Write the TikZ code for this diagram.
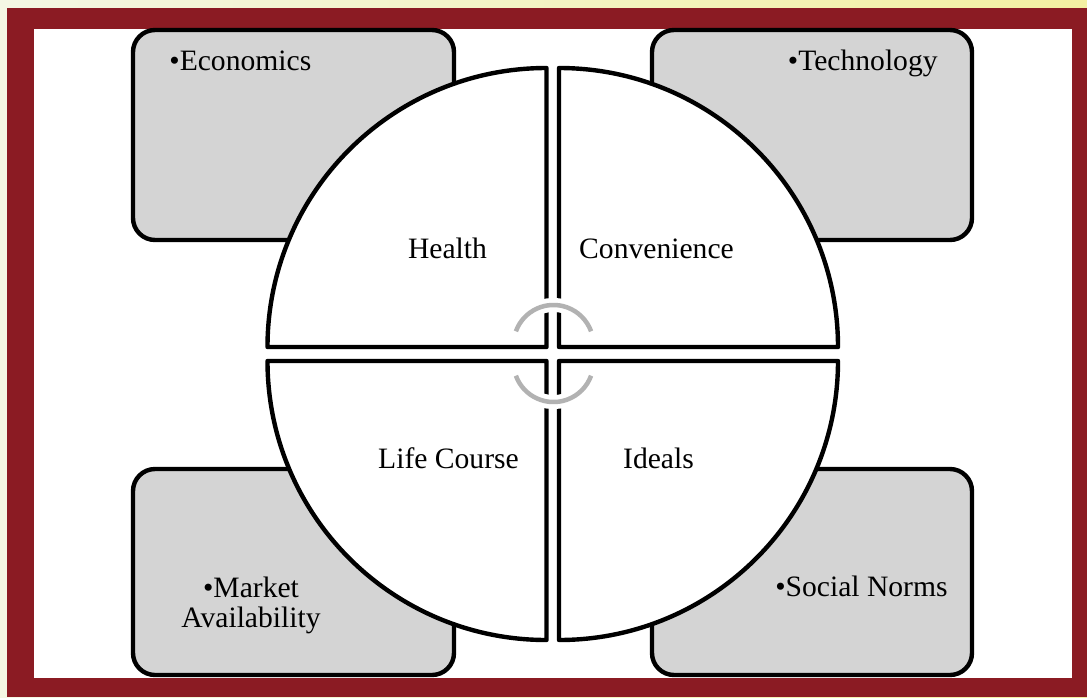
\documentclass[tikz,border=0pt]{standalone}
\usepackage{fontspec}
\setmainfont{Liberation Serif}
\definecolor{framered}{RGB}{139,27,35}
\definecolor{boxgray}{RGB}{212,212,212}
\definecolor{arcgray}{RGB}{178,178,178}
\definecolor{paleyellow}{RGB}{244,247,228}
\definecolor{sunyellow}{RGB}{244,240,162}

\begin{document}
\begin{tikzpicture}[x=0.5pt,y=-0.5pt,
		box/.style={draw=black,line width=2.2pt,fill=boxgray,rounded corners=11pt},
		part/.style={draw=black,line width=2.2pt,fill=white,line join=round},
		word/.style={inner sep=0pt,font=\fontsize{14.8pt}{15pt}\selectfont},
		cyclearc/.style={arcgray,line width=2.25pt},
		arcback/.style={white,line width=7pt}]
	\useasboundingbox (0,0) rectangle (1087,697);
	% 背景与边框
	\shade[left color=paleyellow,right color=sunyellow] (0,0) rectangle (1087,697);
	\fill[framered] (7,8) rectangle (1087,697);
	\fill[white] (34,29) rectangle (1072,678);
	% 四个角上的方框
	\draw[box] (133,30) rectangle (454,240);
	\draw[box] (652,30) rectangle (972,240);
	\draw[box] (133,469) rectangle (454,675);
	\draw[box] (652,469) rectangle (972,675);
	% 四个扇形
	\draw[part] (546.5,347) -- (267.5,347) arc[start angle=180,end angle=270,radius=279] -- cycle;
	\draw[part] (559,347) -- (559,68) arc[start angle=270,end angle=360,radius=279] -- cycle;
	\draw[part] (559,361) -- (838,361) arc[start angle=0,end angle=90,radius=279] -- cycle;
	\draw[part] (546.5,361) -- (546.5,640) arc[start angle=90,end angle=180,radius=279] -- cycle;
	% 中间的两段弧
	\draw[arcback] (515.9,331.3) arc[start angle=200,end angle=340,radius=40];
	\draw[cyclearc] (515.9,331.3) arc[start angle=200,end angle=340,radius=40];
	\draw[arcback] (515.9,375.7) arc[start angle=160,end angle=20,radius=40];
	\draw[cyclearc] (515.9,375.7) arc[start angle=160,end angle=20,radius=40];
	% 文字
	\node[word,anchor=base west] (econ) at (169,70) {\textbullet Economics};
	\node[word,anchor=base east] (tech) at (938,70) {\textbullet Technology};
	\node[word,anchor=base] (health) at (447.5,258) {Health};
	\node[word,anchor=base] (conv) at (656.5,258) {Convenience};
	\node[word,anchor=base] (life) at (448.5,468) {Life Course};
	\node[word,anchor=base] (ideals) at (658.5,468) {Ideals};
	\node[word,align=center] (market) at (251,605) {\textbullet Market\\Availability};
	\node[word,anchor=base east] (norms) at (948,596) {\textbullet Social Norms};
\end{tikzpicture}
\end{document}
